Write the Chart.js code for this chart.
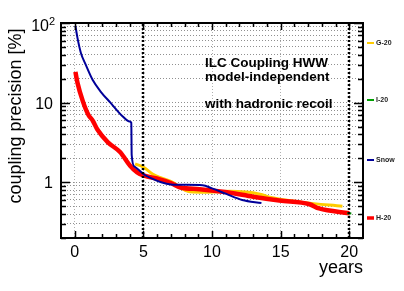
<!DOCTYPE html>
<html>
<head>
<meta charset="utf-8">
<script src="https://cdn.jsdelivr.net/npm/chart.js@4"></script>
<style>
  html, body { margin: 0; padding: 0; background: #fff; }
  #wrap { width: 404px; height: 291px; }
</style>
</head>
<body>
<div id="wrap"><canvas id="chart" width="404" height="291"></canvas></div>
<script>
// coupling precision [%] vs years
var snowYears  = [0.05, 0.2, 0.45, 0.8, 1.3, 1.9, 2.6, 3.5, 4.0, 4.12, 4.15, 4.35, 4.8, 5.0, 5.6, 6.3, 7.0, 8.0, 9.3, 10.0, 11.0, 12.2, 13.6];
var snowValues = [92, 65, 42, 30, 19.4, 13.7, 10, 6.7, 5.8, 5.6, 2.2, 1.58, 1.37, 1.27, 1.12, 1.0, 0.94, 0.93, 0.92, 0.84, 0.72, 0.6, 0.55];

var h20Years  = [0.05, 0.2, 0.6, 1.0, 1.3, 1.65, 2.4, 3.3, 4.05, 4.55, 5.0, 6.2, 7.0, 7.7, 9.1, 11.1, 13.0, 14.9, 17.1, 17.8, 20.0];
var h20Values = [24.4, 17.8, 10.3, 7.0, 6.0, 4.6, 3.2, 2.4, 1.6, 1.33, 1.22, 1.09, 0.98, 0.86, 0.82, 0.75, 0.66, 0.59, 0.53, 0.47, 0.41];

var g20Years  = [4.4, 5.0, 5.7, 6.2, 7.0, 8.4, 9.5, 11.3, 13.5, 14.2, 16.6, 19.5];
var g20Values = [1.7, 1.55, 1.26, 1.15, 1.03, 0.76, 0.75, 0.77, 0.71, 0.65, 0.56, 0.5];

var i20Years  = [19.85, 20.15];
var i20Values = [0.41, 0.405];

var xTickValues = [0, 5, 10, 15, 20];
var xTickLabels = ['0', '5', '10', '15', '20'];
var yTickValues = [1, 10, 100];
var yTickLabels = ['1', '10', '10^2'];
var yGridValues = [0.2, 0.3, 0.4, 0.5, 0.6, 0.7, 0.8, 0.9, 1, 2, 3, 4, 5, 6, 7, 8, 9, 10, 20, 30, 40, 50, 60, 70, 80, 90, 100];
var markerYears = [5, 20];

var legendNames  = ['G-20', 'I-20', 'Snow', 'H-20'];
var legendColors = ['#ffcc00', '#00a000', '#000099', '#ff0000'];
var legendY      = [43, 100, 160, 218];

function pts(xs, ys) {
  var out = [];
  for (var i = 0; i < xs.length; i++) out.push({x: xs[i], y: ys[i]});
  return out;
}

var FONT = '"Liberation Sans", Arial, sans-serif';

var frame = {
  id: 'frame',
  afterDraw: function(chart) {
    var ctx = chart.ctx;
    var a = chart.chartArea;
    var xs = chart.scales.x, ys = chart.scales.y;
    ctx.save();

    // year markers
    ctx.strokeStyle = '#000';
    ctx.lineWidth = 2.5;
    ctx.setLineDash([2, 2]);
    markerYears.forEach(function(v) {
      var px = Math.round(xs.getPixelForValue(v));
      ctx.beginPath();
      ctx.moveTo(px, a.bottom);
      ctx.lineTo(px, a.top);
      ctx.stroke();
    });
    ctx.setLineDash([]);

    // frame
    ctx.lineWidth = 2;
    ctx.strokeRect(a.left, a.top, a.right - a.left, a.bottom - a.top);

    // ticks, pointing inside
    ctx.strokeStyle = '#000';
    ctx.lineWidth = 1.5;
    ctx.beginPath();
    for (var t = 0; t <= 20; t++) {
      var px = Math.round(xs.getPixelForValue(t)) + 0.5;
      var len = (t % 5 === 0) ? 7 : 4;
      ctx.moveTo(px, a.bottom); ctx.lineTo(px, a.bottom - len);
      ctx.moveTo(px, a.top); ctx.lineTo(px, a.top + len);
    }
    yGridValues.forEach(function(v) {
      var py = Math.round(ys.getPixelForValue(v)) + 0.5;
      var major = yTickValues.indexOf(v) >= 0;
      var len = major ? 9 : 5;
      ctx.moveTo(a.left, py); ctx.lineTo(a.left + len, py);
      ctx.moveTo(a.right, py); ctx.lineTo(a.right - len, py);
    });
    ctx.stroke();

    // tick labels
    ctx.fillStyle = '#000';
    ctx.font = '16px ' + FONT;
    ctx.textAlign = 'center';
    ctx.textBaseline = 'alphabetic';
    xTickValues.forEach(function(v, i) {
      ctx.fillText(xTickLabels[i], xs.getPixelForValue(v), a.bottom + 19);
    });
    ctx.textAlign = 'right';
    yTickValues.forEach(function(v, i) {
      var py = ys.getPixelForValue(v);
      var lab = yTickLabels[i];
      if (lab.indexOf('^') > 0) {
        var parts = lab.split('^');
        ctx.font = '11px ' + FONT;
        ctx.fillText(parts[1], 55, py + 2);
        ctx.font = '16px ' + FONT;
        ctx.fillText(parts[0], 49, py + 8);
      } else {
        ctx.font = '16px ' + FONT;
        ctx.fillText(lab, 53, py + 6);
      }
    });

    // axis titles
    ctx.font = '18px ' + FONT;
    ctx.textAlign = 'right';
    ctx.fillText('years', a.right, 273);
    ctx.save();
    ctx.translate(21, 116);
    ctx.rotate(-Math.PI / 2);
    ctx.textAlign = 'center';
    ctx.fillText('coupling precision [%]', 0, 0);
    ctx.restore();

    // caption
    ctx.font = 'bold 13.5px ' + FONT;
    ctx.textAlign = 'left';
    ctx.fillText('ILC Coupling HWW', 205, 67);
    ctx.fillText('model-independent', 205, 81);
    ctx.fillText('with hadronic recoil', 205, 108);

    // legend at the right
    ctx.font = 'bold 7px ' + FONT;
    ctx.textBaseline = 'middle';
    legendNames.forEach(function(n, i) {
      ctx.strokeStyle = legendColors[i];
      ctx.lineWidth = (i === 3) ? 3.5 : 2;
      ctx.beginPath();
      ctx.moveTo(367, legendY[i]);
      ctx.lineTo(374, legendY[i]);
      ctx.stroke();
      ctx.fillStyle = '#222';
      ctx.fillText(n, 376, legendY[i]);
    });
    ctx.restore();
  }
};

var ctx = document.getElementById('chart').getContext('2d');
new Chart(ctx, {
  type: 'line',
  data: {
    datasets: [
      { label: 'I-20', data: pts(i20Years, i20Values), borderColor: '#00a000', borderWidth: 2, order: 0 },
      { label: 'Snow', data: pts(snowYears, snowValues), borderColor: '#000099', borderWidth: 2, order: 1, cubicInterpolationMode: 'monotone' },
      { label: 'H-20', data: pts(h20Years, h20Values), borderColor: '#ff0000', borderWidth: 4.5, order: 2, cubicInterpolationMode: 'monotone' },
      { label: 'G-20', data: pts(g20Years, g20Values), borderColor: '#ffcc00', borderWidth: 3, order: 3, cubicInterpolationMode: 'monotone' }
    ]
  },
  options: {
    responsive: false,
    animation: false,
    events: [],
    elements: { point: { radius: 0 }, line: { tension: 0, borderCapStyle: 'butt' } },
    layout: { padding: { left: 61, top: 23, right: 41, bottom: 53 } },
    plugins: { legend: { display: false }, tooltip: { enabled: false } },
    scales: {
      x: {
        type: 'linear',
        min: -1,
        max: 21,
        afterBuildTicks: function(s) { s.ticks = xTickValues.map(function(v) { return {value: v}; }); },
        ticks: { display: false },
        grid: { color: '#b0b0b0', lineWidth: 1, drawTicks: false },
        border: { display: false, dash: [1, 2] }
      },
      y: {
        type: 'logarithmic',
        min: 0.2,
        max: 100,
        afterBuildTicks: function(s) { s.ticks = yGridValues.map(function(v) { return {value: v}; }); },
        ticks: { display: false },
        grid: { color: '#909090', lineWidth: 1, drawTicks: false },
        border: { display: false, dash: [1, 2] }
      }
    }
  },
  plugins: [frame]
});
</script>
</body>
</html>
